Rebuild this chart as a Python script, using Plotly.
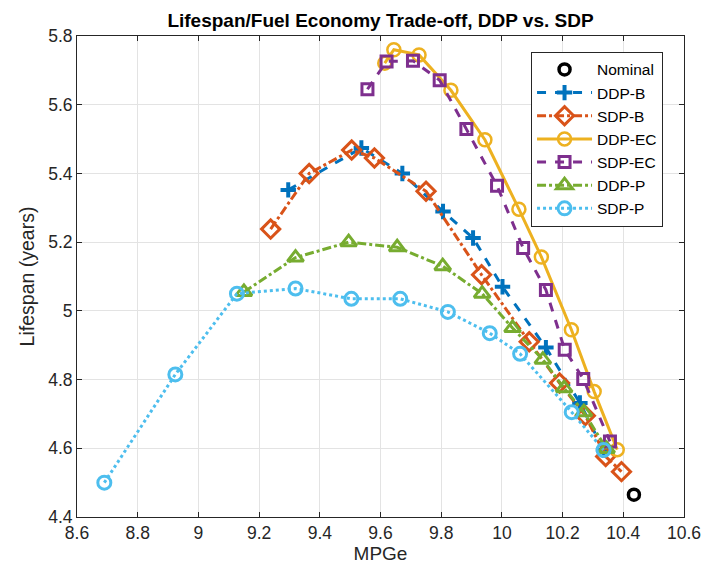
import plotly.graph_objects as go

# ---- data ----
nominal_x = [10.435]
nominal_y = [4.465]

ddp_b_x = [9.296, 9.537, 9.672, 9.806, 9.905, 10.002, 10.145, 10.257, 10.335]
ddp_b_y = [5.352, 5.474, 5.400, 5.289, 5.212, 5.070, 4.893, 4.732, 4.595]

sdp_b_x = [9.238, 9.365, 9.505, 9.580, 9.750, 9.933, 10.090, 10.190, 10.275, 10.342, 10.394]
sdp_b_y = [5.238, 5.400, 5.468, 5.445, 5.348, 5.105, 4.910, 4.790, 4.695, 4.576, 4.532]

ddp_ec_x = [9.614, 9.644, 9.727, 9.832, 9.944, 10.056, 10.130, 10.229, 10.304, 10.380]
ddp_ec_y = [5.721, 5.760, 5.745, 5.642, 5.498, 5.296, 5.157, 4.945, 4.765, 4.596]

sdp_ec_x = [9.557, 9.620, 9.707, 9.795, 9.883, 9.984, 10.070, 10.145, 10.207, 10.268, 10.356]
sdp_ec_y = [5.645, 5.726, 5.728, 5.671, 5.529, 5.364, 5.183, 5.061, 4.887, 4.802, 4.620]

ddp_p_x = [9.150, 9.320, 9.495, 9.655, 9.805, 9.935, 10.035, 10.135, 10.205, 10.270, 10.345]
ddp_p_y = [5.055, 5.155, 5.200, 5.185, 5.130, 5.050, 4.950, 4.858, 4.775, 4.705, 4.598]

sdp_p_x = [8.690, 8.924, 9.127, 9.320, 9.504, 9.665, 9.822, 9.960, 10.060, 10.230, 10.335]
sdp_p_y = [4.500, 4.815, 5.050, 5.065, 5.035, 5.035, 4.997, 4.935, 4.875, 4.705, 4.595]

x_ticks = [8.6, 8.8, 9.0, 9.2, 9.4, 9.6, 9.8, 10.0, 10.2, 10.4, 10.6]
x_tick_labels = ["8.6", "8.8", "9", "9.2", "9.4", "9.6", "9.8", "10", "10.2", "10.4", "10.6"]
y_ticks = [4.4, 4.6, 4.8, 5.0, 5.2, 5.4, 5.6, 5.8]
y_tick_labels = ["4.4", "4.6", "4.8", "5", "5.2", "5.4", "5.6", "5.8"]

BLUE = "#0072BD"
ORANGE = "#D95319"
YELLOW = "#EDB120"
PURPLE = "#7E2F8E"
GREEN = "#77AC30"
LBLUE = "#4DBEEE"
FONT = "Liberation Sans, Arial, sans-serif"

fig = go.Figure()

fig.add_trace(go.Scatter(
    x=nominal_x, y=nominal_y, mode="markers", name="Nominal",
    marker=dict(symbol="circle-open", size=11, color="black", line=dict(width=3.5, color="black"))))

fig.add_trace(go.Scatter(
    x=ddp_b_x, y=ddp_b_y, mode="lines+markers", name="DDP-B",
    line=dict(color=BLUE, width=3, dash="dash"),
    marker=dict(symbol="cross-thin", size=11, color=BLUE, line=dict(width=4, color=BLUE))))

fig.add_trace(go.Scatter(
    x=sdp_b_x, y=sdp_b_y, mode="lines+markers", name="SDP-B",
    line=dict(color=ORANGE, width=3, dash="dashdot"),
    marker=dict(symbol="diamond-open", size=14, color=ORANGE, line=dict(width=3, color=ORANGE))))

fig.add_trace(go.Scatter(
    x=ddp_ec_x, y=ddp_ec_y, mode="lines+markers", name="DDP-EC",
    line=dict(color=YELLOW, width=3),
    marker=dict(symbol="circle-open", size=13, color=YELLOW, line=dict(width=2.5, color=YELLOW))))

fig.add_trace(go.Scatter(
    x=sdp_ec_x, y=sdp_ec_y, mode="lines+markers", name="SDP-EC",
    line=dict(color=PURPLE, width=3, dash="dash"),
    marker=dict(symbol="square-open", size=11, color=PURPLE, line=dict(width=3, color=PURPLE))))

fig.add_trace(go.Scatter(
    x=ddp_p_x, y=ddp_p_y, mode="lines+markers", name="DDP-P",
    line=dict(color=GREEN, width=3, dash="dashdot"),
    marker=dict(symbol="triangle-up-open", size=14, color=GREEN, line=dict(width=3, color=GREEN))))

fig.add_trace(go.Scatter(
    x=sdp_p_x, y=sdp_p_y, mode="lines+markers", name="SDP-P",
    line=dict(color=LBLUE, width=3, dash="dot"),
    marker=dict(symbol="circle-open", size=13, color=LBLUE, line=dict(width=3, color=LBLUE))))

axis_common = dict(
    showgrid=True, gridcolor="#e3e3e3", gridwidth=1,
    showline=True, linecolor="#262626", linewidth=1, mirror="ticks",
    ticks="inside", ticklen=5, tickcolor="#262626",
    zeroline=False, automargin=False,
    tickfont=dict(family=FONT, size=17.5, color="#262626"),
)

W, H = 702, 573
ML, MR, MT, MB = 77, 18, 36, 56
PW = W - ML - MR

fig.update_layout(
    width=W, height=H,
    paper_bgcolor="white", plot_bgcolor="white",
    hovermode=False,
    margin=dict(l=ML, r=MR, t=MT, b=MB, autoexpand=False),
    title=dict(text="<b>Lifespan/Fuel Economy Trade-off, DDP vs. SDP</b>",
               x=(ML + PW / 2) / W, xanchor="center", y=1 - 20 / H, yanchor="middle",
               font=dict(family=FONT, size=19, color="black")),
    xaxis=dict(range=[8.6, 10.6], tickvals=x_ticks, ticktext=x_tick_labels,
               title=dict(text="MPGe", standoff=4,
                          font=dict(family=FONT, size=19, color="#262626")),
               **axis_common),
    yaxis=dict(range=[4.4, 5.8], tickvals=y_ticks, ticktext=y_tick_labels,
               title=dict(text="Lifespan (years)", standoff=8,
                          font=dict(family=FONT, size=19.5, color="#262626")),
               **axis_common),
    legend=dict(x=0.748, y=0.967, xanchor="left", yanchor="top",
                bgcolor="white", bordercolor="#262626", borderwidth=1,
                font=dict(family=FONT, size=15.5, color="black"),
                tracegroupgap=0, itemwidth=55),
    showlegend=True,
)

fig.write_html(
    "out.html",
    config={"displayModeBar": False, "staticPlot": True},
    post_script="document.body.style.margin='0';document.body.style.overflow='hidden';",
)
